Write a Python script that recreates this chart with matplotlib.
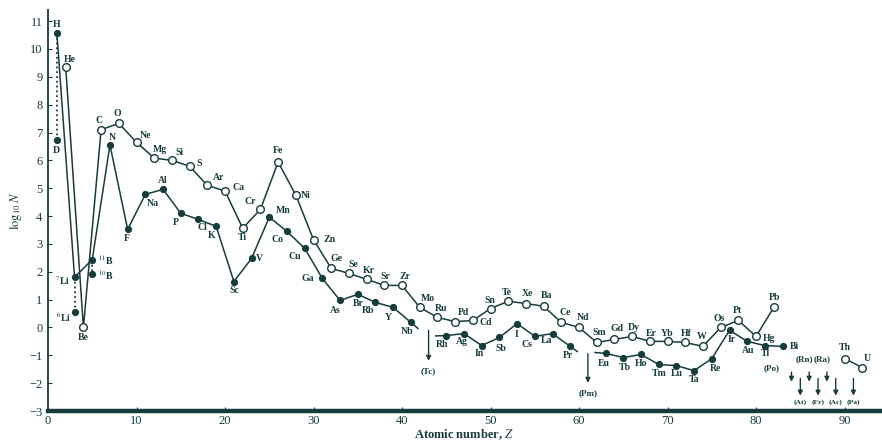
import matplotlib
matplotlib.use("Agg")
import matplotlib.pyplot as plt

plt.rcParams['font.family'] = ['Liberation Serif', 'DejaVu Serif']
plt.rcParams['mathtext.fontset'] = 'stix'

INK = '#173c3c'

# even-Z elements (open circles)
even_sym = ['He', 'Be', 'C', 'O', 'Ne', 'Mg', 'Si', 'S', 'Ar', 'Ca', 'Ti', 'Cr', 'Fe', 'Ni',
            'Zn', 'Ge', 'Se', 'Kr', 'Sr', 'Zr', 'Mo', 'Ru', 'Pd', 'Cd', 'Sn', 'Te', 'Xe', 'Ba',
            'Ce', 'Nd', 'Sm', 'Gd', 'Dy', 'Er', 'Yb', 'Hf', 'W', 'Os', 'Pt', 'Hg', 'Pb']
even_z = [2, 4, 6, 8, 10, 12, 14, 16, 18, 20, 22, 24, 26, 28, 30, 32, 34, 36, 38, 40, 42, 44,
          46, 48, 50, 52, 54, 56, 58, 60, 62, 64, 66, 68, 70, 72, 74, 76, 78, 80, 82]
even_logn = [9.35, 0.0, 7.1, 7.33, 6.65, 6.08, 6.0, 5.79, 5.1, 4.9, 3.56, 4.24, 5.94, 4.75,
             3.15, 2.12, 1.94, 1.73, 1.51, 1.51, 0.72, 0.36, 0.21, 0.25, 0.68, 0.94, 0.86, 0.76,
             0.18, 0.0, -0.54, -0.43, -0.32, -0.5, -0.5, -0.54, -0.68, 0.0, 0.25, -0.32, 0.72]

# actinides
act_sym = ['Th', 'U']
act_z = [90, 92]
act_logn = [-1.12, -1.44]

# odd-Z elements (filled circles), split at the gaps Tc and Pm
odd_sym = ['H', r'$^{7}$Li', r'$^{11}$B', 'N', 'F', 'Na', 'Al', 'P', 'Cl', 'K', 'Sc', 'V', 'Mn',
           'Co', 'Cu', 'Ga', 'As', 'Br', 'Rb', 'Y', 'Nb',
           'Rh', 'Ag', 'In', 'Sb', 'I', 'Cs', 'La', 'Pr',
           'Eu', 'Tb', 'Ho', 'Tm', 'Lu', 'Ta', 'Re', 'Ir', 'Au', 'Tl', 'Bi']
odd_z = [1, 3, 5, 7, 9, 11, 13, 15, 17, 19, 21, 23, 25, 27, 29, 31, 33, 35, 37, 39, 41,
         45, 47, 49, 51, 53, 55, 57, 59,
         63, 65, 67, 69, 71, 73, 75, 77, 79, 81, 83]
odd_logn = [10.58, 1.8, 2.44, 6.55, 3.52, 4.78, 4.96, 4.1, 3.88, 3.63, 1.65, 2.48, 3.96,
            3.45, 2.84, 1.76, 0.97, 1.19, 0.9, 0.72, 0.18,
            -0.29, -0.22, -0.65, -0.36, 0.14, -0.32, -0.22, -0.68,
            -0.93, -1.08, -0.97, -1.33, -1.37, -1.55, -1.12, -0.1, -0.5, -0.65, -0.68]
odd_breaks = [21, 29]  # segment starts (after Tc, after Pm)

# light isotopes drawn below their partner (D, 6Li, 10B)
iso_sym = ['D', r'$^{6}$Li', r'$^{10}$B']
iso_z = [1, 3, 5]
iso_logn = [6.73, 0.54, 1.93]
iso_partner = [10.58, 1.8, 2.44]

# unstable elements with no abundance
gap_sym = ['(Tc)', '(Pm)']
gap_z = [43, 61]
gap_top = [-0.1, -0.94]
gap_len = [1.1, 1.05]
heavy_upper = ['(Po)', '(Rn)', '(Ra)']
heavy_upper_z = [84, 86, 88]
heavy_lower = ['(At)', '(Fr)', '(Ac)', '(Pa)']
heavy_lower_z = [85, 87, 89, 91]

# label offsets in pixels (dx, dy up)
lab_off = {
    'He': (4, 8), 'Be': (0, -10), 'C': (-2, 9), 'O': (-1, 10), 'Ne': (9, 7), 'Mg': (6, 9),
    'Si': (8, 8), 'S': (10, 3), 'Ar': (11, 8), 'Ca': (14, 4), 'Ti': (0, -9), 'Cr': (-10, 8),
    'Fe': (0, 12), 'Ni': (10, 0), 'Zn': (16, 0), 'Ge': (5, 10), 'Se': (4, 9), 'Kr': (2, 9),
    'Sr': (1, 9), 'Zr': (3, 9), 'Mo': (8, 9), 'Ru': (4, 9), 'Pd': (8, 9), 'Cd': (13, -2),
    'Sn': (-1, 8), 'Te': (-1, 9), 'Xe': (2, 10), 'Ba': (3, 11), 'Ce': (4, 10), 'Nd': (4, 10),
    'Sm': (2, 10), 'Gd': (3, 11), 'Dy': (2, 9), 'Er': (1, 8), 'Yb': (0, 8), 'Hf': (1, 9),
    'W': (-1, 10), 'Os': (-1, 9), 'Pt': (-1, 10), 'Hg': (13, -2), 'Pb': (1, 10),
    'Th': (0, 11), 'U': (5, 9),
    'H': (0, 8), r'$^{7}$Li': (-12, -3), r'$^{11}$B': (14, -1), 'N': (2, 8), 'F': (-1, -9),
    'Na': (8, -9), 'Al': (0, 9), 'P': (-5, -9), 'Cl': (4, -8), 'K': (-5, -9), 'Sc': (0, -9),
    'V': (8, 0), 'Mn': (14, 7), 'Co': (-9, -8), 'Cu': (-10, -8), 'Ga': (-15, 0),
    'As': (-5, -10), 'Br': (0, -9), 'Rb': (-7, -8), 'Y': (-5, -10), 'Nb': (-4, -9),
    'Rh': (-4, -9), 'Ag': (-2, -8), 'In': (-2, -8), 'Sb': (1, -11), 'I': (-1, -11),
    'Cs': (-8, -8), 'La': (-6, -7), 'Pr': (-2, -9), 'Eu': (-2, -10), 'Tb': (1, -10),
    'Ho': (0, -9), 'Tm': (0, -9), 'Lu': (0, -8), 'Ta': (0, -9), 'Re': (4, -10),
    'Ir': (2, -9), 'Au': (1, -9), 'Tl': (0, -8), 'Bi': (12, 0),
    'D': (0, -10), r'$^{6}$Li': (-11, -5), r'$^{10}$B': (14, -1),
}

fig = plt.figure(figsize=(8.82, 4.42), dpi=100)
ax = fig.add_axes([48 / 882, 31 / 442, 832 / 882, 401 / 442])

# even line
ax.plot(even_z, even_logn, '-', color=INK, lw=1.1, marker='o', ms=5.5,
        mfc='white', mec=INK, mew=1.0, zorder=3)
ax.plot(act_z, act_logn, '-', color=INK, lw=1.1, marker='o', ms=5.5,
        mfc='white', mec=INK, mew=1.0, zorder=3)

# odd line, in segments with short stubs at the gaps
starts = [0] + odd_breaks
ends = odd_breaks + [len(odd_z)]
for s, e in zip(starts, ends):
    zs, vs = odd_z[s:e], odd_logn[s:e]
    ax.plot(zs, vs, '-', color=INK, lw=1.1, marker='o', ms=4.2,
            mfc=INK, mec=INK, zorder=3)
    if e < len(odd_z):
        ax.plot([zs[-1], zs[-1] + 0.4 * (zs[-1] - zs[-2])],
                [vs[-1], vs[-1] + 0.4 * (vs[-1] - vs[-2])], '-', color=INK, lw=1.1)
    if s > 0:
        ax.plot([zs[0] - 0.6 * (zs[1] - zs[0]), zs[0]],
                [vs[0] - 0.2 * (vs[1] - vs[0]), vs[0]], '-', color=INK, lw=1.1)

# isotopes with dotted links
for z, v, p in zip(iso_z, iso_logn, iso_partner):
    ax.plot([z, z], [p, v], ':', color=INK, lw=1.3)
    ax.plot(z, v, 'o', ms=4.2, color=INK, zorder=3)

# labels
for sym, z, v in list(zip(even_sym, even_z, even_logn)) + list(zip(act_sym, act_z, act_logn)) \
        + list(zip(odd_sym, odd_z, odd_logn)) + list(zip(iso_sym, iso_z, iso_logn)):
    dx, dy = lab_off.get(sym, (0, 9))
    ax.annotate(sym, (z, v), xytext=(dx, dy), textcoords='offset pixels',
                ha='center', va='center', fontsize=7, color=INK, fontweight='bold')

arrow = dict(arrowstyle='-|>', color=INK, lw=1.0, mutation_scale=7, shrinkA=0, shrinkB=0)

# Tc and Pm arrows
for lab, z, top, ln in zip(gap_sym, gap_z, gap_top, gap_len):
    ax.annotate('', xy=(z, top - ln), xytext=(z, top), arrowprops=arrow)
    ax.text(z, top - ln - 0.38, lab, ha='center', va='center', fontsize=6.5, color=INK,
            fontweight='bold')

# heavy unstable elements
for lab, z in zip(heavy_upper, heavy_upper_z):
    ax.annotate('', xy=(z, -1.95), xytext=(z, -1.6), arrowprops=arrow)
    if lab == '(Po)':
        ax.text(z - 2.3, -1.47, lab, ha='center', va='center', fontsize=6.5, color=INK,
                fontweight='bold')
    else:
        ax.text(z - 0.5, -1.15, lab, ha='center', va='center', fontsize=6.5, color=INK,
                fontweight='bold')
for lab, z in zip(heavy_lower, heavy_lower_z):
    ax.annotate('', xy=(z, -2.45), xytext=(z, -1.83), arrowprops=arrow)
    ax.text(z, -2.68, lab, ha='center', va='center', fontsize=5.4, color=INK,
            fontweight='bold')

ax.set_xlim(0, 94)
ax.set_ylim(-3, 11.4)
ax.set_xticks(range(0, 91, 10))
ax.set_yticks(range(-3, 12))
ax.set_yticklabels([str(t).replace('-', '\u2212') for t in range(-3, 12)])
for side in ['top', 'right']:
    ax.spines[side].set_visible(False)
ax.spines['bottom'].set_linewidth(3.2)
ax.spines['bottom'].set_color(INK)
ax.spines['left'].set_linewidth(1.3)
ax.spines['left'].set_color(INK)
ax.tick_params(axis='both', direction='in', length=3, width=0.8, colors=INK,
               labelsize=9, pad=3)
ax.tick_params(axis='y', pad=4)
ax.set_xlabel('Atomic number, $Z$', fontsize=9, color=INK, labelpad=0, fontweight='bold')
ax.set_ylabel(r'$\log_{10} N$', fontsize=9, color=INK, labelpad=4)

fig.savefig('out.png', dpi=100)
